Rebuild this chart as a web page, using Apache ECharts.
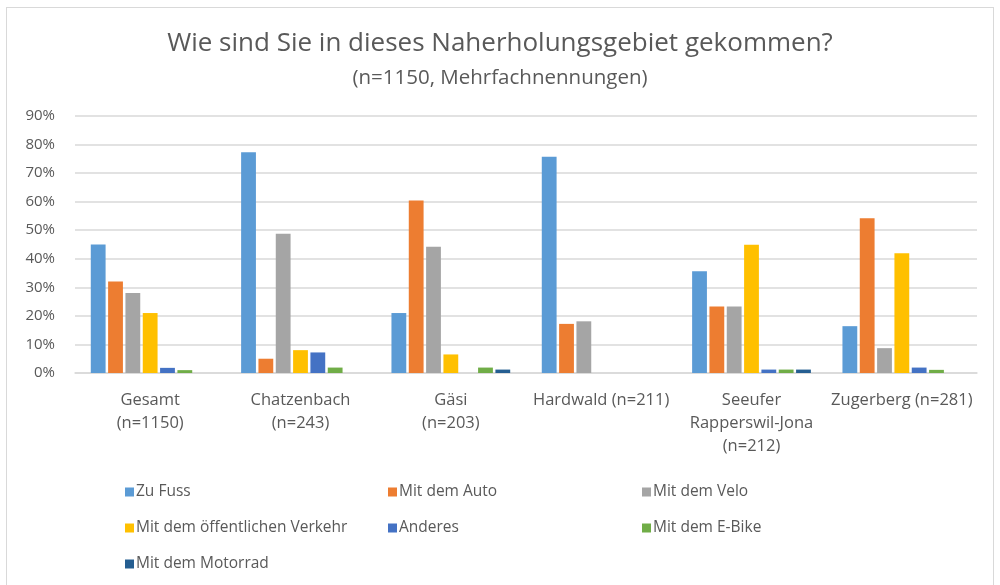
<!DOCTYPE html>
<html>
<head>
<meta charset="utf-8">
<script src="https://cdn.jsdelivr.net/npm/echarts@6/dist/echarts.min.js"></script>
<style>
  html, body { margin: 0; padding: 0; background: #fff; }
  #frame { position: absolute; left: 6px; top: 7px; width: 988px; height: 600px; border: 1px solid #d9d9d9; box-sizing: border-box; }
  #chart { position: absolute; left: 0; top: 0; width: 1000px; height: 585px; }
</style>
</head>
<body>
<div id="frame"></div>
<div id="chart"></div>
<script>
var categories = ['Gesamt\n(n=1150)', 'Chatzenbach\n(n=243)', 'Gäsi\n(n=203)', 'Hardwald (n=211)', 'Seeufer\nRapperswil-Jona\n(n=212)', 'Zugerberg (n=281)'];
var yTicks = [0, 10, 20, 30, 40, 50, 60, 70, 80, 90];

var zuFuss    = [45, 77.3, 21, 75.7, 35.6, 16.4];
var auto      = [32, 5, 60.4, 17.2, 23.3, 54.2];
var velo      = [28, 48.8, 44.2, 18.1, 23.3, 8.7];
var oev       = [21, 8, 6.5, 0, 44.9, 41.9];
var anderes   = [1.8, 7.2, 0, 0, 1.2, 1.9];
var eBike     = [1, 1.9, 1.9, 0, 1.2, 1.1];
var motorrad  = [0, 0, 1.2, 0, 1.2, 0];

var seriesNames = ['Zu Fuss', 'Mit dem Auto', 'Mit dem Velo', 'Mit dem öffentlichen Verkehr', 'Anderes', 'Mit dem E-Bike', 'Mit dem Motorrad'];
var seriesData = [zuFuss, auto, velo, oev, anderes, eBike, motorrad];
var colors = ['#5B9BD5', '#ED7D31', '#A5A5A5', '#FFC000', '#4472C4', '#70AD47', '#255E91'];

var font = 'Open Sans';
var textColor = '#595959';

var chart = echarts.init(document.getElementById('chart'));

var legendBase = {
  orient: 'vertical',
  top: 479,
  itemWidth: 9,
  itemHeight: 9,
  itemGap: 20,
  icon: 'rect',
  textStyle: { fontFamily: font, fontSize: 15.5, color: textColor, padding: [0, 0, 0, -3] }
};

chart.setOption({
  animation: false,
  color: colors,
  title: [{
    text: 'Wie sind Sie in dieses Naherholungsgebiet gekommen?',
    left: 'center',
    top: 26,
    textStyle: { fontFamily: font, fontSize: 26, fontWeight: 'normal', color: textColor }
  }, {
    text: '(n=1150, Mehrfachnennungen)',
    left: 'center',
    top: 63,
    textStyle: { fontFamily: font, fontSize: 20.5, fontWeight: 'normal', color: textColor }
  }],
  legend: [
    Object.assign({}, legendBase, { left: 120, data: [seriesNames[0], seriesNames[3], seriesNames[6]] }),
    Object.assign({}, legendBase, { left: 383, data: [seriesNames[1], seriesNames[4]] }),
    Object.assign({}, legendBase, { left: 637, data: [seriesNames[2], seriesNames[5]] })
  ],
  grid: { left: 75, right: 23, top: 116, bottom: 212, containLabel: false },
  xAxis: {
    type: 'category',
    data: categories,
    axisLine: { lineStyle: { color: '#d9d9d9', width: 1.5 } },
    axisTick: { show: false },
    axisLabel: { fontFamily: font, fontSize: 16.5, color: textColor, lineHeight: 23, margin: 16, interval: 0 }
  },
  yAxis: {
    type: 'value',
    min: yTicks[0],
    max: yTicks[yTicks.length - 1],
    interval: 10,
    axisLine: { show: false },
    axisTick: { show: false },
    splitLine: { lineStyle: { color: '#d9d9d9', width: 1.5 } },
    axisLabel: { fontFamily: font, fontSize: 15, color: textColor, margin: 20, formatter: '{value}%' }
  },
  series: seriesNames.map(function (name, i) {
    return {
      name: name,
      type: 'bar',
      data: seriesData[i],
      barGap: '17%',
      barCategoryGap: '21%'
    };
  })
});
</script>
</body>
</html>
